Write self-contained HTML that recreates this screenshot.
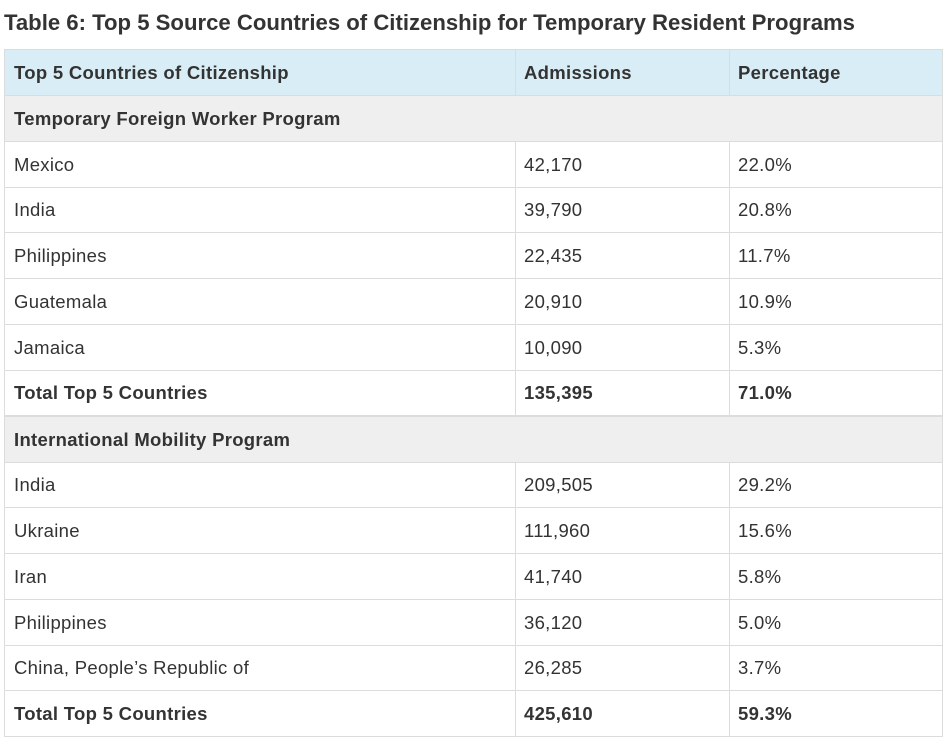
<!DOCTYPE html>
<html><head><meta charset="utf-8"><style>
body{margin:0;width:946px;height:732px;background:#fff;overflow:hidden;font-family:"Liberation Sans","DejaVu Sans",sans-serif;color:#333;position:relative}
.r{position:absolute;left:4px;width:939px;border-left:1px solid #dcdcdc;border-right:1px solid #dcdcdc;border-bottom:1px solid #dcdcdc;box-sizing:border-box}
.c{position:absolute;top:0;bottom:0;display:flex;align-items:center;padding-left:8px;font-size:18.5px;letter-spacing:0.3px;box-sizing:border-box}
.c1{left:0;width:510px;padding-left:9px}
.c2{left:510px;width:214px;border-left:1px solid #dcdcdc}
.c3{left:724px;width:214px;border-left:1px solid #dcdcdc}
.b{font-weight:bold}
.h{background:#d9edf7}
.g{background:#efefef}
</style></head><body>
<svg style="position:absolute;left:0;top:0" width="946" height="45"><text x="4" y="30" textLength="851" lengthAdjust="spacingAndGlyphs" font-family="Liberation Sans, sans-serif" font-size="22" font-weight="bold" fill="#333">Table 6: Top 5 Source Countries of Citizenship for Temporary Resident Programs</text></svg>
<div class="r h" style="top:49px;height:47px;border-top:1px solid #dcdcdc"><div class="c c1 b">Top 5 Countries of Citizenship</div><div class="c c2 b">Admissions</div><div class="c c3 b">Percentage</div></div>
<div class="r g" style="top:96px;height:46px"><div class="c c1 b" style="width:900px">Temporary Foreign Worker Program</div></div>
<div class="r" style="top:142px;height:46px"><div class="c c1">Mexico</div><div class="c c2">42,170</div><div class="c c3">22.0%</div></div>
<div class="r" style="top:188px;height:45px"><div class="c c1">India</div><div class="c c2">39,790</div><div class="c c3">20.8%</div></div>
<div class="r" style="top:233px;height:46px"><div class="c c1">Philippines</div><div class="c c2">22,435</div><div class="c c3">11.7%</div></div>
<div class="r" style="top:279px;height:46px"><div class="c c1">Guatemala</div><div class="c c2">20,910</div><div class="c c3">10.9%</div></div>
<div class="r" style="top:325px;height:46px"><div class="c c1">Jamaica</div><div class="c c2">10,090</div><div class="c c3">5.3%</div></div>
<div class="r" style="top:371px;height:46px;border-bottom:2px solid #dcdcdc"><div class="c c1 b">Total Top 5 Countries</div><div class="c c2 b">135,395</div><div class="c c3 b">71.0%</div></div>
<div class="r g" style="top:417px;height:46px"><div class="c c1 b" style="width:900px">International Mobility Program</div></div>
<div class="r" style="top:463px;height:45px"><div class="c c1">India</div><div class="c c2">209,505</div><div class="c c3">29.2%</div></div>
<div class="r" style="top:508px;height:46px"><div class="c c1">Ukraine</div><div class="c c2">111,960</div><div class="c c3">15.6%</div></div>
<div class="r" style="top:554px;height:46px"><div class="c c1">Iran</div><div class="c c2">41,740</div><div class="c c3">5.8%</div></div>
<div class="r" style="top:600px;height:46px"><div class="c c1">Philippines</div><div class="c c2">36,120</div><div class="c c3">5.0%</div></div>
<div class="r" style="top:646px;height:45px"><div class="c c1">China, People’s Republic of</div><div class="c c2">26,285</div><div class="c c3">3.7%</div></div>
<div class="r" style="top:691px;height:46px"><div class="c c1 b">Total Top 5 Countries</div><div class="c c2 b">425,610</div><div class="c c3 b">59.3%</div></div>
</body></html>
